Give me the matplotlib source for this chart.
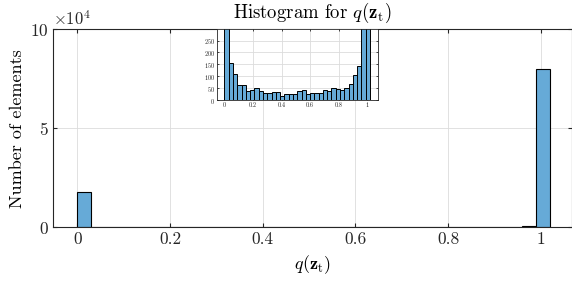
import numpy as np
import matplotlib
matplotlib.use("Agg")
import matplotlib.pyplot as plt

plt.rcParams['font.family'] = ['cmr10', 'DejaVu Serif']
plt.rcParams['mathtext.fontset'] = 'cm'
plt.rcParams['axes.formatter.use_mathtext'] = True
plt.rcParams['axes.unicode_minus'] = False

# histogram bins (width 0.03) and counts
bin_edges = np.round(np.arange(0, 34 + 1) * 0.03, 4)
counts = [17600, 158, 109, 64, 64, 39, 45, 50, 39, 32,
          29, 35, 35, 17, 27, 27, 27, 38, 43, 27,
          31, 31, 31, 42, 39, 50, 49, 45, 52, 68,
          105, 144, 520, 79800]

xticks = [0, 0.2, 0.4, 0.6, 0.8, 1]
xtick_labels = ['0', '0.2', '0.4', '0.6', '0.8', '1']
yticks = [0, 5e4, 10e4]
inset_yticks = [0, 50, 100, 150, 200, 250]

face = '#66AAD7'
axis_col = '#262626'
grid_col = '#DCDCDC'


def style(ax, fs, lw):
    for s in ax.spines.values():
        s.set_color(axis_col)
        s.set_linewidth(lw)
    ax.tick_params(direction='in', top=True, right=True, colors=axis_col,
                   labelsize=fs, width=lw, length=3 if fs > 6 else 1.5,
                   pad=3 if fs > 6 else 1.5)
    ax.grid(True, color=grid_col, linewidth=0.6)
    ax.set_axisbelow(True)


fig = plt.figure(figsize=(5.72, 2.83), dpi=100)
ax = fig.add_axes([0.093, 0.197, 0.907, 0.7005])
ax.hist(bin_edges[:-1], bins=bin_edges, weights=counts, color=face,
        edgecolor='black', linewidth=0.8)
ax.set_xlim(-0.052, 1.0675)
ax.set_ylim(0, 10e4)
ax.set_xticks(xticks)
ax.set_xticklabels(xtick_labels)
ax.set_yticks(yticks)
ax.ticklabel_format(style='sci', axis='y', scilimits=(4, 4), useMathText=True)
style(ax, 12.5, 0.8)
ax.yaxis.get_offset_text().set_fontsize(12)
ax.set_xlabel(r'$q(\mathbf{z}_\mathrm{t})$', fontsize=13, labelpad=5)
ax.set_ylabel('Number of elements', fontsize=13, labelpad=4)
ax.set_title(r'Histogram for $q(\mathbf{z}_\mathrm{t})$', fontsize=13.5, pad=8)

# inset zoom on the low counts
ins = fig.add_axes([0.379, 0.6456, 0.2815, 0.251])
ins.set_facecolor('white')
ins.hist(bin_edges[:-1], bins=bin_edges, weights=counts, color=face,
         edgecolor='black', linewidth=0.7)
ins.set_xlim(-0.054, 1.075)
ins.set_ylim(0, 297)
ins.set_xticks(xticks)
ins.set_xticklabels(xtick_labels)
ins.set_yticks(inset_yticks)
style(ins, 4.5, 0.6)

fig.savefig('out.png', dpi=100)
